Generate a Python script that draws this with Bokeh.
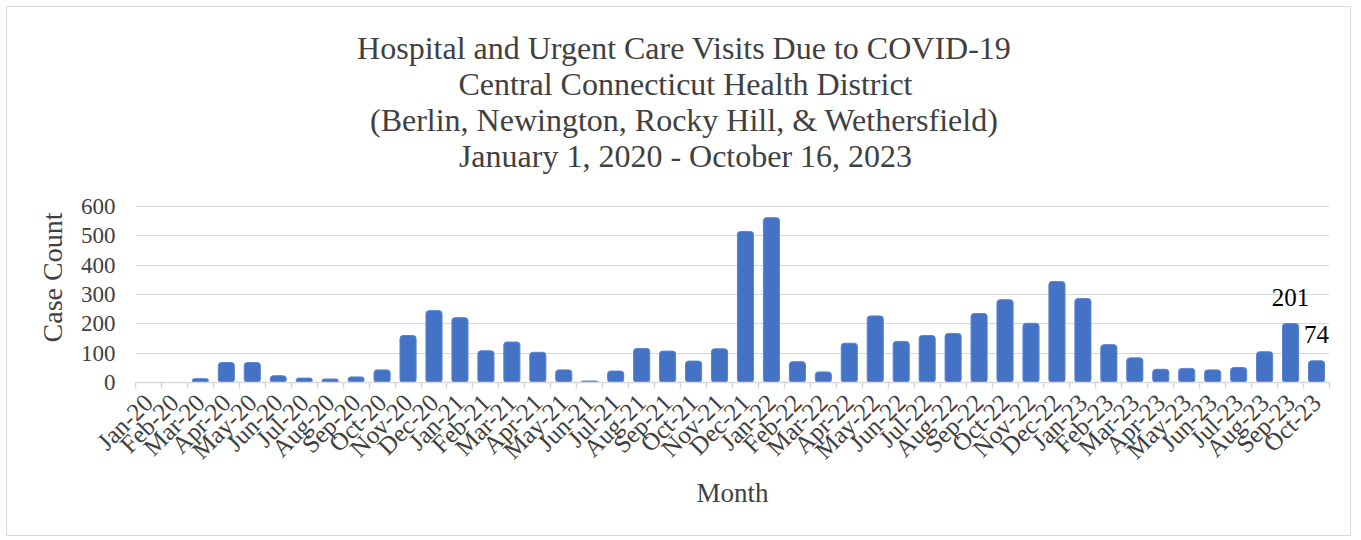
import math
from bokeh.plotting import figure
from bokeh.models import Range1d, FixedTicker, Title, ColumnDataSource
from bokeh.embed import file_html
from bokeh.resources import INLINE
from bokeh.core.properties import value

# ---------------- data ----------------
months = ["Jan-20", "Feb-20", "Mar-20", "Apr-20", "May-20", "Jun-20", "Jul-20", "Aug-20",
          "Sep-20", "Oct-20", "Nov-20", "Dec-20", "Jan-21", "Feb-21", "Mar-21", "Apr-21",
          "May-21", "Jun-21", "Jul-21", "Aug-21", "Sep-21", "Oct-21", "Nov-21", "Dec-21",
          "Jan-22", "Feb-22", "Mar-22", "Apr-22", "May-22", "Jun-22", "Jul-22", "Aug-22",
          "Sep-22", "Oct-22", "Nov-22", "Dec-22", "Jan-23", "Feb-23", "Mar-23", "Apr-23",
          "May-23", "Jun-23", "Jul-23", "Aug-23", "Sep-23", "Oct-23"]
counts = [0, 0, 13, 68, 68, 23, 15, 12,
          19, 43, 160, 245, 221, 108, 138, 103,
          43, 5, 39, 116, 107, 73, 115, 515,
          562, 71, 36, 134, 227, 140, 160, 167,
          235, 282, 202, 344, 286, 129, 84, 45,
          48, 43, 51, 105, 201, 74]
label_months = ["Sep-23", "Oct-23"]
label_values = [201, 74]
y_ticks = [0, 100, 200, 300, 400, 500, 600]
title_lines = ["Hospital and Urgent Care Visits Due to COVID-19",
               "Central Connecticut Health District",
               "(Berlin, Newington, Rocky Hill, & Wethersfield)",
               "January 1, 2020 - October 16, 2023"]

FONT = "Liberation Serif"
TXT = "#404040"
GRID = "#d9d9d9"
TITLE_PX = 32

# approximate Times/Liberation Serif advance widths (1/1000 em) for centring titles
_W = dict(zip("ABCDEFGHIJKLMNOPQRSTUVWXYZ",
              [722, 667, 667, 722, 611, 556, 722, 722, 333, 389, 722, 611, 889,
               722, 722, 556, 722, 667, 556, 611, 722, 722, 944, 722, 722, 611]))
_W.update(zip("abcdefghijklmnopqrstuvwxyz",
              [444, 500, 444, 500, 444, 333, 500, 500, 278, 278, 500, 278, 778,
               500, 500, 500, 500, 333, 389, 278, 500, 500, 722, 500, 500, 444]))
_W.update({c: 500 for c in "0123456789"})
_W.update({" ": 250, "(": 333, ")": 333, ",": 250, "-": 333, "&": 778})


def text_width(s, px):
    return sum(_W.get(c, 500) for c in s) * px / 1000.0


n = len(months)
idx = list(range(n))                       # category index positions
boundaries = [i - 0.5 for i in range(n + 1)]

# layout: the value axis (0-600) occupies the lower 176 px of a 210 px frame,
# the blank band above it separates the title block from the bars
FRAME_LEFT = 128
FRAME_H, AXIS_H = 210, 176
y_end = y_ticks[-1] * FRAME_H / AXIS_H

p = figure(width=1345, height=530, x_range=Range1d(-0.5, n - 0.5), y_range=Range1d(0, y_end),
           output_backend="svg", toolbar_location=None, title=None,
           min_border_left=FRAME_LEFT, min_border_right=23,
           min_border_top=165, min_border_bottom=155)
p.styles = {"border": "1px solid #d9d9d9", "margin": "6px 0 0 6px"}
p.outline_line_color = None
p.background_fill_color = "white"
p.border_fill_color = "white"

# x axis (below): month labels at category centres, tick marks between categories
xax = p.below[0]
xax.ticker = FixedTicker(ticks=idx, minor_ticks=boundaries)
xax.major_label_overrides = {i: m for i, m in zip(idx, months)}
xax.major_label_orientation = math.pi / 4
xax.axis_line_color = GRID
xax.axis_line_width = 1.5
xax.major_tick_line_color = None
xax.major_tick_out = 0
xax.major_tick_in = 0
xax.minor_tick_line_color = GRID
xax.minor_tick_line_width = 1.5
xax.minor_tick_out = 6
xax.minor_tick_in = 0
xax.major_label_text_font = FONT
xax.major_label_text_font_size = "25px"
xax.major_label_text_color = TXT
xax.major_label_standoff = 10
xax.axis_label = "Month"
xax.axis_label_text_font = FONT
xax.axis_label_text_font_size = "27px"
xax.axis_label_text_font_style = "normal"
xax.axis_label_text_color = TXT
xax.axis_label_standoff = 1

# title lines, centred on the canvas (added from closest-to-plot outward)
title_centre = 678
for line in reversed(title_lines):
    off = title_centre - FRAME_LEFT - text_width(line, TITLE_PX) / 2
    p.add_layout(Title(text=line, align="left", offset=off,
                       text_font=FONT, text_font_size=f"{TITLE_PX}px",
                       text_font_style="normal", text_color=TXT, standoff=-2), "above")

# y axis
yax = p.left[0]
yax.ticker = FixedTicker(ticks=y_ticks)
yax.axis_line_color = None
yax.major_tick_line_color = None
yax.major_tick_out = 0
yax.major_tick_in = 0
yax.minor_tick_line_color = None
yax.major_label_text_font = FONT
yax.major_label_text_font_size = "23px"
yax.major_label_text_color = TXT
yax.major_label_standoff = 20
yax.axis_label = "Case Count"
yax.axis_label_text_font = FONT
yax.axis_label_text_font_size = "28px"
yax.axis_label_text_font_style = "normal"
yax.axis_label_text_color = TXT
yax.axis_label_standoff = 10

p.ygrid.ticker = FixedTicker(ticks=y_ticks)
p.ygrid.grid_line_color = GRID
p.ygrid.grid_line_width = 1
p.xgrid.grid_line_color = None

src = ColumnDataSource(dict(x=idx, month=months, count=counts))
p.vbar(x="x", top="count", width=0.62, source=src, fill_color="#4472C4",
       line_color="#5b84cf", line_width=1, border_radius=3)

lab_x = [months.index(m) for m in label_months]
p.text(x=lab_x, y=label_values, text=[str(v) for v in label_values],
       text_align="center", text_baseline="alphabetic", y_offset=-26,
       text_font=value(FONT), text_font_size="25px", text_color="black")

open("out.html", "w").write(file_html(p, INLINE))
